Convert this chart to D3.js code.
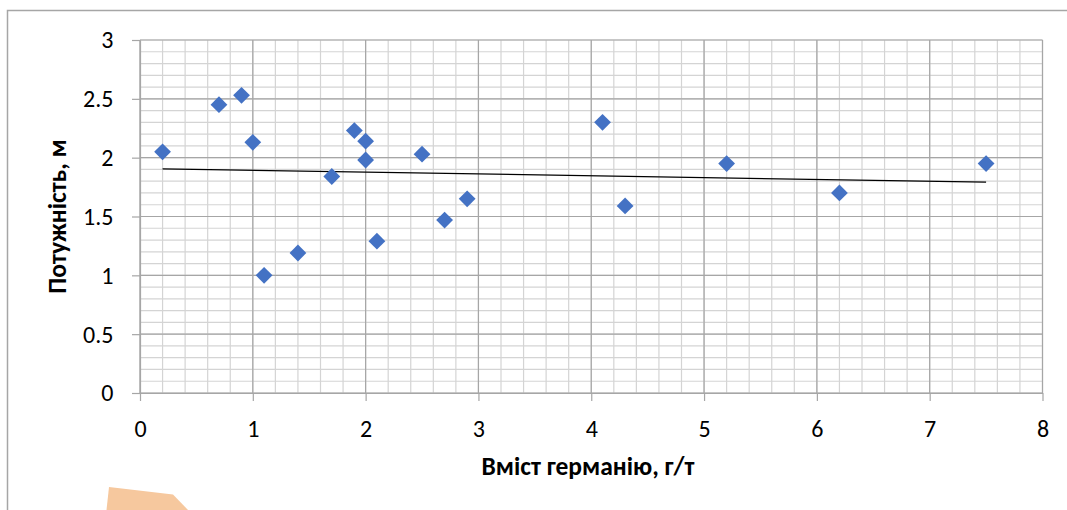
<!DOCTYPE html>
<html>
<head>
<meta charset="utf-8">
<script src="https://cdn.jsdelivr.net/npm/d3@7"></script>
<style>
  html, body { margin: 0; padding: 0; background: #fff; }
  svg { display: block; }
  text { font-family: Carlito, Calibri, Lato, sans-serif; }
</style>
</head>
<body>
<svg id="chart" width="1067" height="510"></svg>
<script>
// ---- data ----
const germanium = [0.2, 0.7, 0.9, 1.0, 1.1, 1.4, 1.7, 1.9, 2.0, 2.0, 2.1, 2.5, 2.7, 2.9, 4.1, 4.3, 5.2, 6.2, 7.5];
const thickness = [2.05, 2.45, 2.53, 2.13, 1.0, 1.19, 1.84, 2.23, 2.14, 1.98, 1.29, 2.03, 1.47, 1.65, 2.30, 1.59, 1.95, 1.70, 1.95];
const xTicks = [0, 1, 2, 3, 4, 5, 6, 7, 8];
const yTicks = [0, 0.5, 1, 1.5, 2, 2.5, 3];
const xTitle = "Вміст германію, г/т";
const yTitle = "Потужність, м";

const svg = d3.select("#chart");
const W = 1067, H = 510;
const L = 140, R = 1042.5, T = 40, B = 393;

const x = d3.scaleLinear().domain([0, 8]).range([L, R]);
const y = d3.scaleLinear().domain([0, 3]).range([B, T]);

svg.append("rect").attr("width", W).attr("height", H).attr("fill", "#fff");

// chart frame (top & left visible)
svg.append("path").attr("d", `M7.5,${H} L7.5,10.5 L${W},10.5`)
  .attr("fill", "none").attr("stroke", "#a6a6a6").attr("stroke-width", 1.5);

// decorative orange shape bottom-left
svg.append("polygon")
  .attr("points", "109,487 173,494.5 188,510 106.5,510")
  .attr("fill", "#f6c89e");

// minor grid
const minorX = d3.range(0, 8.0001, 0.2);
const minorY = d3.range(0, 3.0001, 0.1);
const g = svg.append("g");
g.selectAll(".mx").data(minorX).join("line")
  .attr("x1", d => x(d)).attr("x2", d => x(d)).attr("y1", T).attr("y2", B)
  .attr("stroke", "#d4d4d4").attr("stroke-width", 1.2);
g.selectAll(".my").data(minorY).join("line")
  .attr("y1", d => y(d)).attr("y2", d => y(d)).attr("x1", L).attr("x2", R)
  .attr("stroke", "#d4d4d4").attr("stroke-width", 1.2);
// major grid
g.selectAll(".Mx").data(xTicks).join("line")
  .attr("x1", d => x(d)).attr("x2", d => x(d)).attr("y1", T).attr("y2", B)
  .attr("stroke", "#a6a6a6").attr("stroke-width", 1.2);
g.selectAll(".My").data(yTicks).join("line")
  .attr("y1", d => y(d)).attr("y2", d => y(d)).attr("x1", L).attr("x2", R)
  .attr("stroke", "#a6a6a6").attr("stroke-width", 1.2);

// axes
const xAxis = svg.append("g").attr("transform", `translate(0,${B})`)
  .call(d3.axisBottom(x).tickValues(xTicks).tickSize(8).tickPadding(21).tickSizeOuter(0).tickFormat(d3.format("")));
const yAxis = svg.append("g").attr("transform", `translate(${L},0)`)
  .call(d3.axisLeft(y).tickValues(yTicks).tickSize(8).tickPadding(18.5).tickSizeOuter(0).tickFormat(d3.format("")));
[xAxis, yAxis].forEach(a => {
  a.select(".domain").attr("stroke", "#a6a6a6").attr("stroke-width", 1.2);
  a.selectAll(".tick line").attr("stroke", "#a6a6a6").attr("stroke-width", 1.2);
  a.selectAll(".tick text").attr("fill", "#000").style("font-size", "24px")
    .style("font-family", "Carlito, Calibri, Lato, sans-serif");
});
xAxis.selectAll(".tick text").attr("y", 43.5).attr("dy", "0");
yAxis.selectAll(".tick text").attr("dy", "0.33em");

// trendline (least squares over the data)
const n = germanium.length;
const mx = d3.mean(germanium), my = d3.mean(thickness);
let sxy = 0, sxx = 0;
for (let i = 0; i < n; i++) { sxy += (germanium[i]-mx)*(thickness[i]-my); sxx += (germanium[i]-mx)**2; }
const slope = sxy / sxx, icpt = my - slope * mx;
const x0 = d3.min(germanium), x1 = d3.max(germanium);
svg.append("line")
  .attr("x1", x(x0)).attr("y1", y(icpt + slope*x0))
  .attr("x2", x(x1)).attr("y2", y(icpt + slope*x1))
  .attr("stroke", "#000").attr("stroke-width", 1.3);

// diamonds
const pts = germanium.map((v, i) => [v, thickness[i]]);
svg.selectAll(".pt").data(pts).join("path")
  .attr("d", d3.symbol().type(d3.symbolDiamond2 || d3.symbolDiamond).size(180))
  .attr("transform", d => `translate(${x(d[0])},${y(d[1])})`)
  .attr("fill", "#4472c4");

// titles
const titleFont = "Carlito, Calibri, 'Open Sans', sans-serif";
svg.append("text").attr("x", 588).attr("y", 475)
  .attr("text-anchor", "middle").style("font-family", titleFont)
  .style("font-size", "25.5px").style("font-weight", "bold")
  .text(xTitle);
svg.append("text").attr("transform", `translate(66,${(T+B)/2}) rotate(-90)`)
  .attr("text-anchor", "middle").style("font-family", titleFont)
  .style("font-size", "25.5px").style("font-weight", "bold")
  .text(yTitle);
</script>
</body>
</html>
